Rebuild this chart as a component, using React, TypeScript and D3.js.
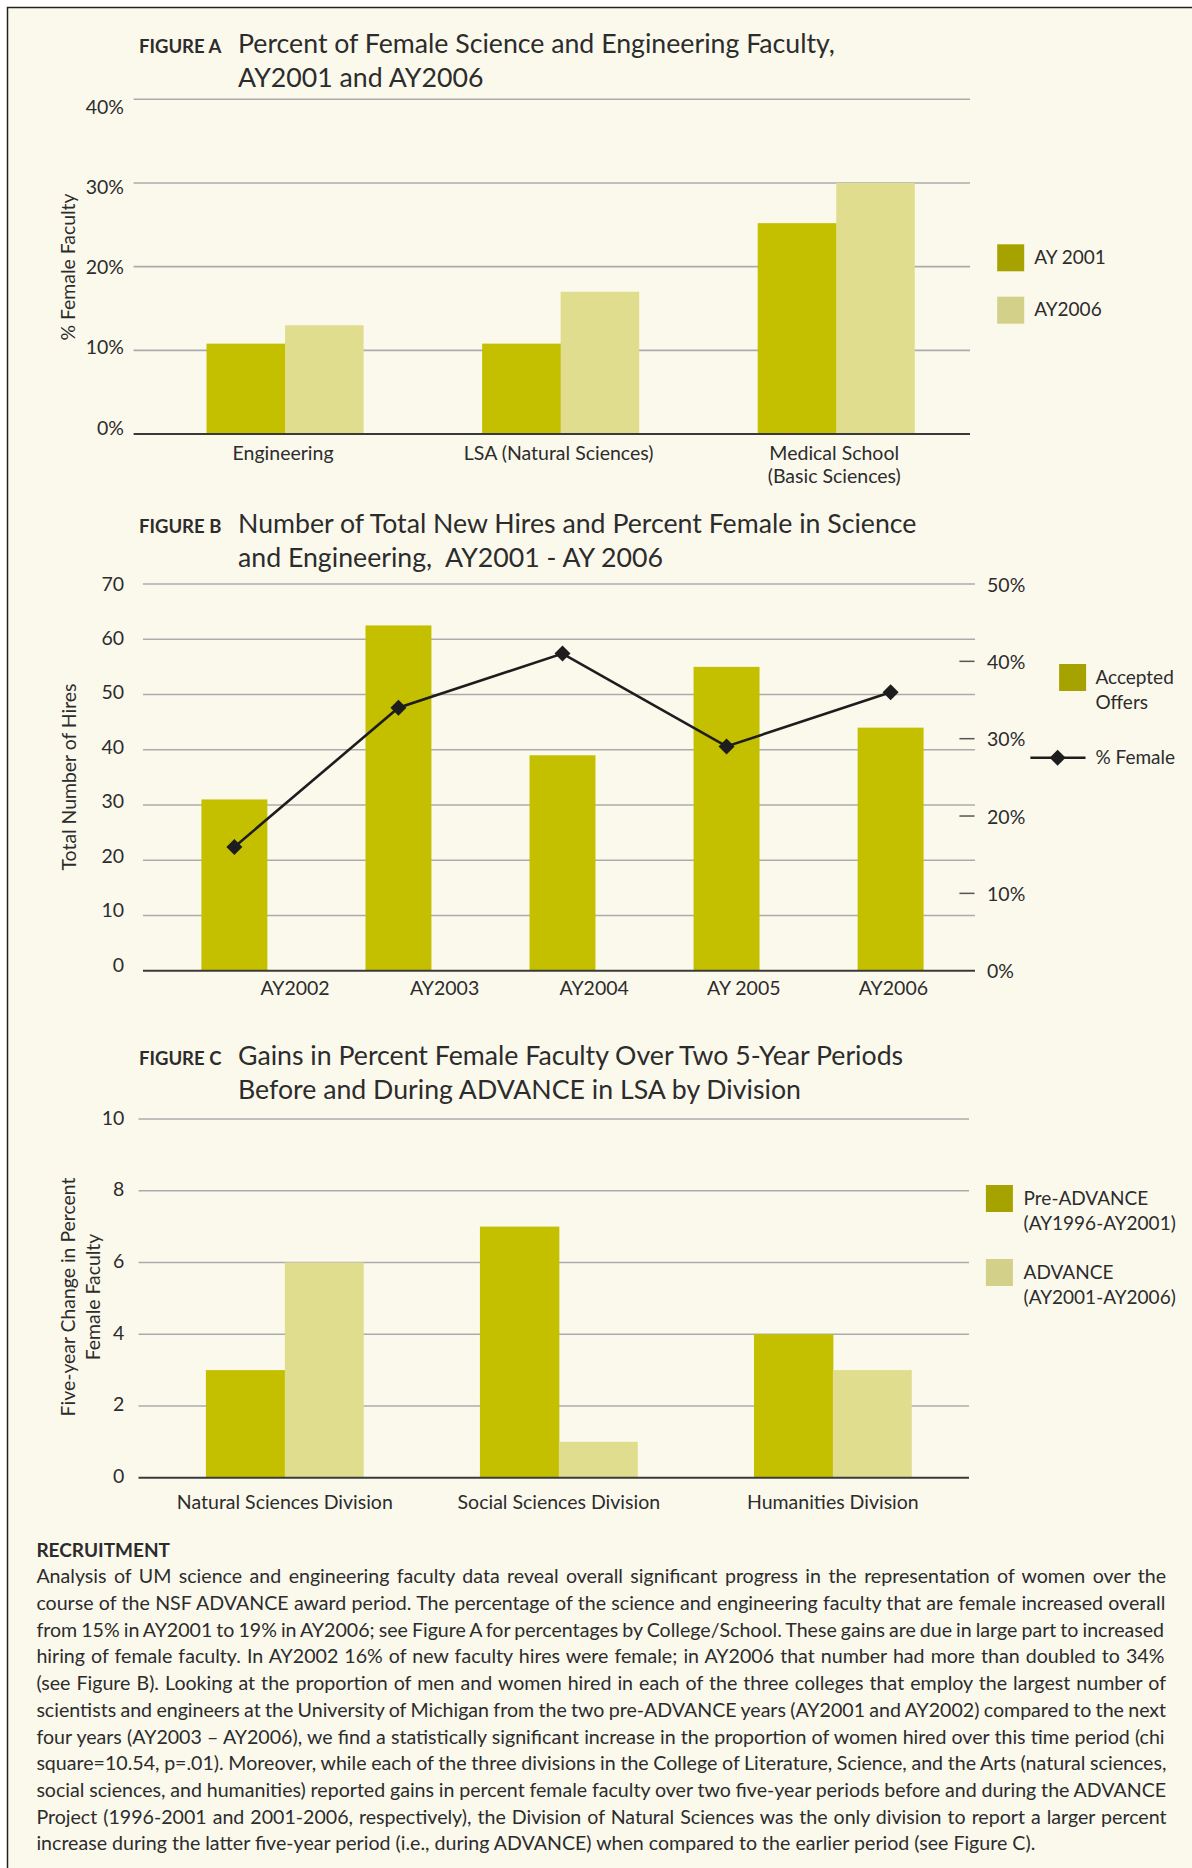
import React, { useMemo } from "react";
import * as d3 from "d3";

// ---------- Figure A data ----------
const schoolCategories = ["Engineering", "LSA (Natural Sciences)", "Medical School|(Basic Sciences)"];
const facultyYears = ["AY 2001", "AY2006"];
const femaleFaculty2001 = [10.8, 10.8, 25.2];
const femaleFaculty2006 = [13, 17, 30];
const ticksA = [0, 10, 20, 30, 40];

// ---------- Figure B data ----------
const hireYears = ["AY2002", "AY2003", "AY2004", "AY 2005", "AY2006"];
const acceptedOffers = [31, 62.5, 39, 55, 44];
const percentFemaleHires = [16, 34, 41, 29, 36];
const ticksHires = [0, 10, 20, 30, 40, 50, 60, 70];
const ticksPercent = [0, 10, 20, 30, 40, 50];

// ---------- Figure C data ----------
const divisions = ["Natural Sciences Division", "Social Sciences Division", "Humanities Division"];
const periods = ["Pre-ADVANCE|(AY1996-AY2001)", "ADVANCE|(AY2001-AY2006)"];
const gainPreAdvance = [3, 7, 4];
const gainAdvance = [6, 1, 3];
const ticksC = [0, 2, 4, 6, 8, 10];

// ---------- Text ----------
const recruitmentLines = [
  "Analysis of UM science and engineering faculty data reveal overall significant progress in the representation of women over the",
  "course of the NSF ADVANCE award period. The percentage of the science and engineering faculty that are female increased overall",
  "from 15% in AY2001 to 19% in AY2006; see Figure A for percentages by College/School. These gains are due in large part to increased",
  "hiring of female faculty. In AY2002 16% of new faculty hires were female; in AY2006 that number had more than doubled to 34%",
  "(see Figure B). Looking at the proportion of men and women hired in each of the three colleges that employ the largest number of",
  "scientists and engineers at the University of Michigan from the two pre-ADVANCE years (AY2001 and AY2002) compared to the next",
  "four years (AY2003 \u2013 AY2006), we find a statistically significant increase in the proportion of women hired over this time period (chi",
  "square=10.54, p=.01). Moreover, while each of the three divisions in the College of Literature, Science, and the Arts (natural sciences,",
  "social sciences, and humanities) reported gains in percent female faculty over two five-year periods before and during the ADVANCE",
  "Project (1996-2001 and 2001-2006, respectively), the Division of Natural Sciences was the only division to report a larger percent",
  "increase during the latter five-year period (i.e., during ADVANCE) when compared to the earlier period (see Figure C).",
];

// ---------- Styling ----------
const CREAM = "#fbf9ec";
const OLIVE = "#c4c000";
const OLIVE_LIGHT = "#e0de8e";
const LEGEND_DARK = "#a6a200";
const LEGEND_LIGHT = "#d3d08a";
const GRID = "#ababab";
const AXIS = "#3a3a3a";
const INK = "#2c2c2c";
const FONT = "Lato, 'Open Sans', sans-serif";
const TICK_SIZE = 19.5;
const CAT_SIZE = 19.5;
const LEGEND_SIZE = 19;
const BODY_SIZE = 19.6;

function FigureTitle({ label, lines, y }: { label: string; lines: string[]; y: number }) {
  return (
    <g fill={INK}>
      <text x={139} y={y} fontSize={18.5} fontWeight={700}>
        {label}
      </text>
      {lines.map((l, i) => (
        <text key={i} x={238} y={y + i * 33.5} fontSize={26.7} xmlSpace="preserve">
          {l}
        </text>
      ))}
    </g>
  );
}

function RotatedTitle({ x, y, text }: { x: number; y: number; text: string }) {
  return (
    <text
      transform={`translate(${x},${y}) rotate(-90)`}
      textAnchor="middle"
      dominantBaseline="central"
      fontSize={19.4}
      fill={INK}
    >
      {text}
    </text>
  );
}

function LegendSwatch({ x, y, color, lines, textX }: { x: number; y: number; color: string; lines: string[]; textX: number }) {
  return (
    <g>
      <rect x={x} y={y} width={27} height={27} fill={color} />
      {lines.map((l, i) => (
        <text key={i} x={textX} y={y + 19.5 + i * 25} fontSize={LEGEND_SIZE} fill={INK}>
          {l}
        </text>
      ))}
    </g>
  );
}

function Diamond({ x, y, r }: { x: number; y: number; r: number }) {
  return <path d={`M${x},${y - r}L${x + r},${y}L${x},${y + r}L${x - r},${y}Z`} fill="#1d1d1d" />;
}

// Grouped bars used by figures A and C
function GroupedBars({
  x0,
  seriesA,
  seriesB,
  y,
}: {
  x0: d3.ScaleBand<string>;
  seriesA: number[];
  seriesB: number[];
  y: d3.ScaleLinear<number, number>;
}) {
  const x1 = d3.scaleBand<string>().domain(["a", "b"]).range([0, x0.bandwidth()]);
  const base = y(0);
  return (
    <g>
      {x0.domain().map((c, i) => (
        <g key={c} transform={`translate(${x0(c)},0)`}>
          <rect x={x1("a")} y={y(seriesA[i])} width={x1.bandwidth() + 0.5} height={base - y(seriesA[i])} fill={OLIVE} />
          <rect x={x1("b")} y={y(seriesB[i])} width={x1.bandwidth()} height={base - y(seriesB[i])} fill={OLIVE_LIGHT} />
        </g>
      ))}
    </g>
  );
}

function FigureA() {
  const y = d3.scaleLinear().domain([0, 40]).range([434, 99.3]);
  const yLabel = d3.scaleLinear().domain([0, 40]).range([427, 106.7]);
  const x0 = d3.scaleBand<string>().domain(schoolCategories).range([151.4, 969.9]).paddingInner(0.43).paddingOuter(0.2);
  const left = 133.6;
  const right = 970;
  return (
    <g>
      <FigureTitle label="FIGURE A" lines={["Percent of Female Science and Engineering Faculty,", "AY2001 and AY2006"]} y={53} />
      {ticksA.filter((t) => t > 0).map((t) => (
        <line key={t} x1={left} x2={right} y1={y(t)} y2={y(t)} stroke={GRID} strokeWidth={1.6} />
      ))}
      {ticksA.map((t) => (
        <text key={t} x={124} y={yLabel(t)} textAnchor="end" dominantBaseline="central" fontSize={TICK_SIZE} fill={INK}>
          {d3.format(".0%")(t / 100)}
        </text>
      ))}
      <GroupedBars x0={x0} seriesA={femaleFaculty2001} seriesB={femaleFaculty2006} y={y} />
      <line x1={left} x2={right} y1={y(0)} y2={y(0)} stroke={AXIS} strokeWidth={2} />
      {schoolCategories.map((c) =>
        c.split("|").map((l, i) => (
          <text key={c + i} x={(x0(c) ?? 0) + x0.bandwidth() / 2 - 2} y={460 + i * 23} textAnchor="middle" fontSize={CAT_SIZE} fill={INK}>
            {l}
          </text>
        ))
      )}
      <RotatedTitle x={67} y={267} text="% Female Faculty" />
      <LegendSwatch x={997.2} y={244.3} color={LEGEND_DARK} lines={[facultyYears[0]]} textX={1034.2} />
      <LegendSwatch x={997.2} y={296.7} color={LEGEND_LIGHT} lines={[facultyYears[1]]} textX={1034.2} />
    </g>
  );
}

function FigureB() {
  const yL = d3.scaleLinear().domain([0, 70]).range([970.7, 584]);
  const yLLabel = d3.scaleLinear().domain([0, 70]).range([964.3, 583]);
  const yR = d3.scaleLinear().domain([0, 50]).range([970.7, 584]);
  const x = d3.scaleBand<string>().domain(hireYears).range([152.2, 972.8]).paddingInner(0.598).paddingOuter(0.3);
  const xLabel = d3.scalePoint<string>().domain(hireYears).range([295, 893.4]);
  const cx = (d: string) => (x(d) ?? 0) + x.bandwidth() / 2;
  const left = 143;
  const right = 975;
  const line = d3
    .line<number>()
    .x((_, i) => cx(hireYears[i]))
    .y((v) => yR(v));
  return (
    <g>
      <FigureTitle
        label="FIGURE B"
        lines={["Number of Total New Hires and Percent Female in Science", "and Engineering,\u00a0\u00a0AY2001 - AY 2006"]}
        y={533}
      />
      {ticksHires.filter((t) => t > 0).map((t) => (
        <line key={t} x1={left} x2={right} y1={yL(t)} y2={yL(t)} stroke={GRID} strokeWidth={1.6} />
      ))}
      {ticksHires.map((t) => (
        <text key={t} x={124} y={yLLabel(t)} textAnchor="end" dominantBaseline="central" fontSize={TICK_SIZE} fill={INK}>
          {t}
        </text>
      ))}
      {ticksPercent.map((t) => (
        <g key={t}>
          {t > 0 && t < 50 && <line x1={959.4} x2={974.5} y1={yR(t)} y2={yR(t)} stroke="#555" strokeWidth={1.5} />}
          <text x={987} y={yR(t)} dominantBaseline="central" fontSize={TICK_SIZE} fill={INK}>
            {t}%
          </text>
        </g>
      ))}
      {hireYears.map((d, i) => (
        <rect key={d} x={x(d)} y={yL(acceptedOffers[i])} width={x.bandwidth()} height={yL(0) - yL(acceptedOffers[i])} fill={OLIVE} />
      ))}
      <line x1={left} x2={right} y1={yL(0)} y2={yL(0)} stroke={AXIS} strokeWidth={2} />
      <path d={line(percentFemaleHires) ?? ""} fill="none" stroke="#1d1d1d" strokeWidth={2.6} />
      {percentFemaleHires.map((v, i) => (
        <Diamond key={i} x={cx(hireYears[i])} y={yR(v)} r={8} />
      ))}
      {hireYears.map((d) => (
        <text key={d} x={xLabel(d)} y={995} textAnchor="middle" fontSize={CAT_SIZE} fill={INK}>
          {d}
        </text>
      ))}
      <RotatedTitle x={68} y={777} text="Total Number of Hires" />
      <LegendSwatch x={1059.1} y={664} color={LEGEND_DARK} lines={["Accepted", "Offers"]} textX={1095.4} />
      <line x1={1030.4} x2={1085.5} y1={757.7} y2={757.7} stroke="#1d1d1d" strokeWidth={2.6} />
      <Diamond x={1057.6} y={757.7} r={8} />
      <text x={1095.4} y={763.5} fontSize={LEGEND_SIZE} fill={INK}>
        % Female
      </text>
    </g>
  );
}

function FigureC() {
  const y = d3.scaleLinear().domain([0, 10]).range([1477.7, 1119]);
  const x0 = d3.scaleBand<string>().domain(divisions).range([151.1, 966.6]).paddingInner(0.424).paddingOuter(0.2);
  const left = 138.5;
  const right = 969;
  return (
    <g>
      <FigureTitle
        label="FIGURE C"
        lines={["Gains in Percent Female Faculty Over Two 5-Year Periods", "Before and During ADVANCE in LSA by Division"]}
        y={1065}
      />
      {ticksC.filter((t) => t > 0).map((t) => (
        <line key={t} x1={left} x2={right} y1={y(t)} y2={y(t)} stroke={GRID} strokeWidth={1.6} />
      ))}
      {ticksC.map((t) => (
        <text key={t} x={124.4} y={y(t) - 2} textAnchor="end" dominantBaseline="central" fontSize={TICK_SIZE} fill={INK}>
          {t}
        </text>
      ))}
      <GroupedBars x0={x0} seriesA={gainPreAdvance} seriesB={gainAdvance} y={y} />
      <line x1={left} x2={right} y1={y(0)} y2={y(0)} stroke={AXIS} strokeWidth={2} />
      {divisions.map((c) => (
        <text key={c} x={(x0(c) ?? 0) + x0.bandwidth() / 2} y={1509.3} textAnchor="middle" fontSize={CAT_SIZE} fill={INK}>
          {c}
        </text>
      ))}
      <RotatedTitle x={67} y={1297} text="Five-year Change in Percent" />
      <RotatedTitle x={92} y={1297} text="Female Faculty" />
      <LegendSwatch x={985.9} y={1185} color={LEGEND_DARK} lines={periods[0].split("|")} textX={1023.6} />
      <LegendSwatch x={985.9} y={1259} color={LEGEND_LIGHT} lines={periods[1].split("|")} textX={1023.6} />
    </g>
  );
}

// Justified paragraph: each word gap gets the same offset so every line but the last fills the width exactly
function Paragraph({ x, y, width, lineHeight }: { x: number; y: number; width: number; lineHeight: number }) {
  const extras = useMemo(() => {
    const ctx = document.createElement("canvas").getContext("2d");
    if (!ctx) return recruitmentLines.map(() => 0);
    ctx.font = `${BODY_SIZE}px Lato`;
    return recruitmentLines.map((l, i) => {
      if (i === recruitmentLines.length - 1) return 0;
      const gaps = l.split(" ").length - 1;
      const natural = ctx.measureText(l).width;
      return gaps ? (width - natural) / gaps : 0;
    });
  }, [width]);

  return (
    <g fill={INK}>
      <text x={x} y={y - 26.6} fontSize={19} fontWeight={700}>
        RECRUITMENT
      </text>
      {recruitmentLines.map((l, i) => (
        <text key={i} x={x} y={y + i * lineHeight} fontSize={BODY_SIZE} xmlSpace="preserve">
          {l.split(" ").map((w, j) => (
            <tspan key={j} dx={j > 0 ? extras[i] : 0}>
              {(j > 0 ? " " : "") + w}
            </tspan>
          ))}
        </text>
      ))}
    </g>
  );
}

export default function App() {
  return (
    <svg
      width={1192}
      height={1868}
      viewBox="0 0 1192 1868"
      style={{ position: "absolute", left: 0, top: 0, display: "block" }}
      fontFamily={FONT}
    >
      <rect width={1192} height={1868} fill="#ffffff" />
      <rect x={7.5} y={7.5} width={1300} height={1950} fill={CREAM} stroke="#222" strokeWidth={1.5} />
      <FigureA />
      <FigureB />
      <FigureC />
      <Paragraph x={36.4} y={1583.3} width={1131.6} lineHeight={26.7} />
    </svg>
  );
}
